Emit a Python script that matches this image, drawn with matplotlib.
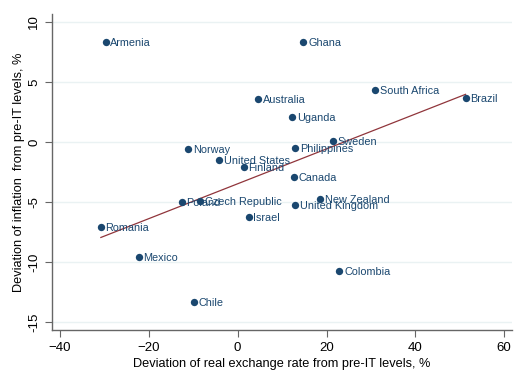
"""Inflation vs real exchange rate deviation scatter."""

import numpy as np
import matplotlib

matplotlib.use('Agg')
from matplotlib import pyplot as plt  # noqa: E402

countries = ['Armenia', 'Ghana', 'Australia', 'South Africa', 'Brazil', 'Uganda',
             'Sweden', 'Philippines', 'Norway', 'United States', 'Finland', 'Canada',
             'New Zealand', 'United Kingdom', 'Czech Republic', 'Poland', 'Israel',
             'Romania', 'Mexico', 'Colombia', 'Chile']
rer_dev = [-29.7, 14.8, 4.6, 31.0, 51.3, 12.3, 21.5, 12.9, -11.2, -4.2, 1.4, 12.7,
           18.6, 13.0, -8.5, -12.6, 2.5, -30.8, -22.3, 22.9, -9.8]
infl_dev = [8.33, 8.33, 3.58, 4.33, 3.67, 2.08, 0.08, -0.5, -0.58, -1.5, -2.1, -2.9,
            -4.75, -5.25, -4.9, -5.0, -6.25, -7.1, -9.6, -10.75, -13.3]

# fitted line
fit_slope = 0.1453
fit_intercept = -3.48

navy = '#1a476f'
red = '#90353b'

plt.rcParams['font.family'] = ['Liberation Sans', 'DejaVu Sans']

figure = plt.figure(figsize=(5.28, 3.84), dpi=100)
axis = figure.add_axes([0.0985, 0.1406, 0.8715, 0.8229])

axis.scatter(rer_dev, infl_dev, s=28, color=navy, zorder=3, linewidths=0)
for name, x, y in zip(countries, rer_dev, infl_dev):
    axis.annotate(name, (x, y), xytext=(3.4, -0.8), textcoords='offset points',
                  ha='left', va='center', fontsize=7.8, color=navy, zorder=4)

x_fit = np.array([min(rer_dev), max(rer_dev)])
axis.plot(x_fit, fit_slope * x_fit + fit_intercept, color=red, linewidth=0.9, zorder=2)

axis.set_xlim(-41.8, 61.8)
axis.set_ylim(-15.67, 10.67)
axis.set_xticks([-40, -20, 0, 20, 40, 60])
axis.set_yticks([-15, -10, -5, 0, 5, 10])
axis.set_yticklabels(['-15', '-10', '-5', '0', '5', '10'], rotation=90, va='center')
axis.grid(True, axis='y', color='#eaf2f3', linewidth=1.0, zorder=0)
axis.set_axisbelow(True)
for side in ['top', 'right']:
    axis.spines[side].set_visible(False)
for side in ['left', 'bottom']:
    axis.spines[side].set_color('#666666')
    axis.spines[side].set_linewidth(1.0)
axis.tick_params(direction='out', length=5, width=0.8, color='#666666', labelsize=9.5,
                 pad=3.5)
axis.set_xlabel('Deviation of real exchange rate from pre-IT levels, %', fontsize=9.2,
                labelpad=3)
axis.set_ylabel('Deviation of inflation  from pre-IT levels, %', fontsize=9.2,
                labelpad=2)

figure.savefig('out.png', dpi=100)
plt.close(figure)
